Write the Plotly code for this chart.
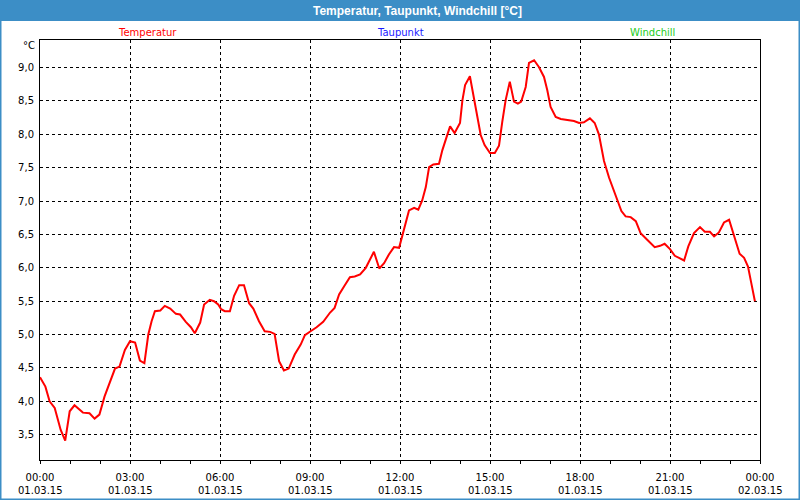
import pandas as pd
import plotly.graph_objects as go

# ---- data ----
hours = [0.0, 0.18, 0.32, 0.49, 0.69, 0.84, 0.99, 1.15, 1.43, 1.65, 1.82, 1.98,
         2.15, 2.35, 2.50, 2.65, 2.83, 3.0, 3.17, 3.33, 3.48, 3.61, 3.72, 3.83,
         4.01, 4.16, 4.34, 4.53, 4.67, 4.86, 5.03, 5.16, 5.34, 5.47, 5.66, 5.80,
         5.94, 6.04, 6.16, 6.33, 6.47, 6.64, 6.80, 6.97, 7.11, 7.30, 7.49, 7.67,
         7.82, 7.97, 8.13, 8.29, 8.49, 8.69, 8.83, 9.02, 9.22, 9.44, 9.67, 9.82,
         9.97, 10.16, 10.33, 10.49, 10.67, 10.86, 11.0, 11.13, 11.31, 11.47, 11.63, 11.8,
         11.97, 12.04, 12.16, 12.30, 12.47, 12.61, 12.74, 12.86, 12.97, 13.11, 13.30, 13.41,
         13.56, 13.67, 13.82, 14.0, 14.08, 14.17, 14.33, 14.44, 14.58, 14.69, 14.82, 15.0,
         15.16, 15.30, 15.41, 15.52, 15.66, 15.80, 15.93, 16.04, 16.19, 16.30, 16.47, 16.63,
         16.80, 16.91, 17.02, 17.19, 17.36, 17.58, 17.80, 17.97, 18.13, 18.33, 18.49, 18.63,
         18.80, 18.97, 19.11, 19.24, 19.38, 19.52, 19.69, 19.86, 20.02, 20.24, 20.49, 20.67,
         20.82, 21.0, 21.16, 21.30, 21.47, 21.61, 21.80, 22.0, 22.16, 22.33, 22.47, 22.63,
         22.80, 22.97, 23.13, 23.32, 23.47, 23.60, 23.71, 23.83]
temperatur = [4.36, 4.22, 4.00, 3.90, 3.57, 3.41, 3.85, 3.94, 3.83, 3.82, 3.74, 3.80,
              4.07, 4.32, 4.49, 4.52, 4.77, 4.90, 4.88, 4.61, 4.57, 5.00, 5.20, 5.35,
              5.36, 5.43, 5.39, 5.31, 5.30, 5.19, 5.11, 5.02, 5.18, 5.45, 5.52, 5.50,
              5.45, 5.38, 5.35, 5.35, 5.58, 5.74, 5.74, 5.47, 5.39, 5.20, 5.05, 5.04,
              5.01, 4.60, 4.46, 4.49, 4.70, 4.85, 4.99, 5.05, 5.11, 5.19, 5.33, 5.40,
              5.60, 5.74, 5.86, 5.87, 5.90, 6.00, 6.13, 6.24, 5.99, 6.07, 6.20, 6.31,
              6.30, 6.42, 6.62, 6.86, 6.90, 6.87, 7.01, 7.21, 7.51, 7.55, 7.56, 7.76,
              7.97, 8.12, 8.02, 8.17, 8.51, 8.74, 8.87, 8.61, 8.26, 7.99, 7.84, 7.72,
              7.72, 7.83, 8.19, 8.51, 8.79, 8.49, 8.46, 8.49, 8.71, 9.07, 9.11, 9.01,
              8.86, 8.66, 8.41, 8.26, 8.23, 8.21, 8.20, 8.17, 8.18, 8.24, 8.17, 8.00,
              7.60, 7.35, 7.17, 7.00, 6.85, 6.77, 6.76, 6.70, 6.52, 6.42, 6.31, 6.33,
              6.36, 6.28, 6.18, 6.15, 6.11, 6.32, 6.52, 6.61, 6.54, 6.54, 6.47, 6.53,
              6.68, 6.72, 6.47, 6.21, 6.15, 6.02, 5.77, 5.50]

tick_times = ["00:00", "03:00", "06:00", "09:00", "12:00", "15:00", "18:00", "21:00", "00:00"]
tick_dates = ["01.03.15"] * 8 + ["02.03.15"]
tick_vals = ["2015-03-01 00:00", "2015-03-01 03:00", "2015-03-01 06:00", "2015-03-01 09:00",
             "2015-03-01 12:00", "2015-03-01 15:00", "2015-03-01 18:00", "2015-03-01 21:00",
             "2015-03-02 00:00"]
y_ticks = [3.5, 4.0, 4.5, 5.0, 5.5, 6.0, 6.5, 7.0, 7.5, 8.0, 8.5, 9.0]

title_text = "Temperatur, Taupunkt, Windchill [°C]"
series_names = ["Temperatur", "Taupunkt", "Windchill"]
series_colors = ["#ff0000", "#1a1aff", "#22cc22"]

# ---- figure ----
base = pd.Timestamp("2015-03-01 00:00")
times = base + pd.to_timedelta(hours, unit="h")

W, H = 800, 500
L, R, T, B = 40, 40, 40, 40
pw, ph = W - L - R, H - T - B

def px(x):
    return (x - L) / pw

def py(y):
    return (H - B - y) / ph

FONT = "DejaVu Sans"
BLUE = "#3c8ec6"

fig = go.Figure()
fig.add_trace(go.Scatter(x=times, y=temperatur, mode="lines",
                         line=dict(color=series_colors[0], width=2),
                         showlegend=False, hoverinfo="skip"))

fig.update_layout(
    width=W, height=H,
    margin=dict(l=L, r=R, t=T, b=B, pad=0),
    paper_bgcolor="white", plot_bgcolor="white",
    separators=", ",
    font=dict(family=FONT, size=10, color="#000000"),
    showlegend=False,
)

fig.update_xaxes(
    type="date",
    range=[tick_vals[0], tick_vals[-1]],
    tickmode="array", tickvals=tick_vals, ticktext=tick_times,
    ticks="outside", ticklen=3, tickcolor="black", tickwidth=1,
    minor=dict(ticks="outside", ticklen=3, tickcolor="black", dtick=3600000,
               showgrid=False),
    showline=True, linecolor="black", linewidth=1, mirror=True,
    showgrid=True, gridcolor="black", gridwidth=1, griddash="3px,3px",
    zeroline=False,
    tickfont=dict(family=FONT, size=10, color="#000000"),
    ticklabelstandoff=5,
)
fig.update_yaxes(
    range=[3.12, 9.414],
    tickmode="array", tickvals=y_ticks, tickformat=".1f",
    ticks="",
    showline=True, linecolor="black", linewidth=1, mirror=True,
    showgrid=True, gridcolor="black", gridwidth=1, griddash="3px,3px",
    zeroline=False,
    tickfont=dict(family=FONT, size=10, color="#000000"),
    ticklabelstandoff=3,
)

shapes = [
    dict(type="rect", xref="paper", yref="paper",
         x0=px(0), x1=px(W), y0=py(0), y1=py(21),
         fillcolor=BLUE, line=dict(width=0), layer="above"),
    dict(type="rect", xref="paper", yref="paper",
         x0=px(0.5), x1=px(W - 0.5), y0=py(0), y1=py(H - 0.5),
         fillcolor="rgba(0,0,0,0)", line=dict(color=BLUE, width=2), layer="above"),
]
fig.update_layout(shapes=shapes)

annotations = [
    dict(text=f"<b>{title_text}</b>", x=px(417), y=py(10.5), xref="paper", yref="paper",
         showarrow=False, xanchor="center", yanchor="middle",
         font=dict(family="Liberation Sans", size=12, color="white")),
    dict(text="°C", x=px(37), y=py(46), xref="paper", yref="paper",
         showarrow=False, xanchor="right", yanchor="middle",
         font=dict(family=FONT, size=10, color="#000000")),
]
label_x = [147, 400, 652]
for name, col, lx in zip(series_names, series_colors, label_x):
    annotations.append(dict(text=name, x=px(lx), y=py(32), xref="paper", yref="paper",
                            showarrow=False, xanchor="center", yanchor="middle",
                            font=dict(family=FONT, size=10, color=col)))
# second line of the x tick labels (date)
for tv, d in zip(tick_vals, tick_dates):
    annotations.append(dict(text=d, x=tv, y=py(490), xref="x", yref="paper",
                            showarrow=False, xanchor="center", yanchor="middle",
                            font=dict(family=FONT, size=10, color="#000000")))
fig.update_layout(annotations=annotations)

fig.write_html("out.html")
